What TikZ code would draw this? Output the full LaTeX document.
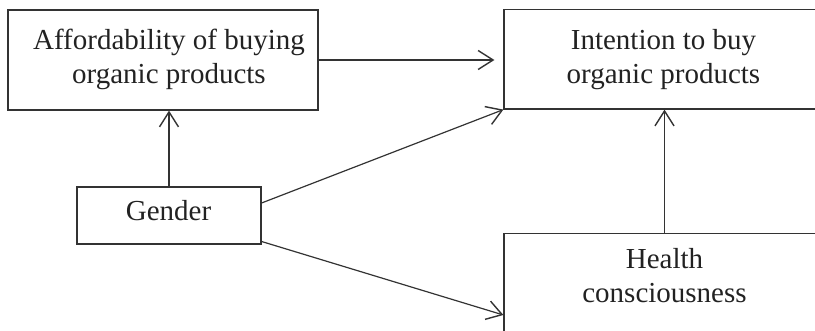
\documentclass[tikz,border=0pt]{standalone}
\usepackage{fontspec}
\setmainfont{Liberation Serif}
\usetikzlibrary{arrows.meta}
\definecolor{linec}{HTML}{333333}
\definecolor{txtc}{HTML}{222222}
\tikzset{
  box/.style={draw=linec, line width=1.2pt, inner sep=0pt},
  lbl/.style={font=\fontsize{29}{34}\selectfont, text=txtc, align=center, inner sep=0pt},
  arr/.style={draw=linec, line width=1.2pt, -{Straight Barb[length=15pt,width=19pt,line width=1.4pt]}},
}
\begin{document}
\begin{tikzpicture}[x=1pt,y=-1pt]
\useasboundingbox (0,0) rectangle (815,331);
\clip (0,0) rectangle (815,331);
% boxes
\node[box, minimum width=310pt, minimum height=100pt] (aff) at (163,60) {};
\node[lbl] (afft) at (169,59.2) {Affordability of buying\\organic products};
\node[box, minimum width=319pt, minimum height=99.5pt] (int) at (663.5,59.25) {};
\node[lbl] (intt) at (663.5,59.75) {Intention to buy\\organic products};
\node[box, minimum width=184pt, minimum height=57pt] (gend) at (169,215.5) {};
\node[lbl] (gendt) at (168.5,210.8) {Gender};
\node[box, minimum width=321pt, minimum height=120pt, anchor=north] (health) at (664.5,233) {};
\node[lbl] (healtht) at (664.5,276) {Health\\consciousness};
% connectors
\draw[arr] (gend.north) -- (gend.north |- aff.south);
\draw[arr] (aff.east) -- ([xshift=-9pt]int.west |- aff.east);
\draw[arr] ([yshift=12.5pt]gend.east) -- (int.south west);
\draw[arr] ([yshift=-26pt]gend.east) -- ([yshift=-82pt]health.north west);
\draw[arr] (health.north) -- (health.north |- int.south);
\end{tikzpicture}
\end{document}
